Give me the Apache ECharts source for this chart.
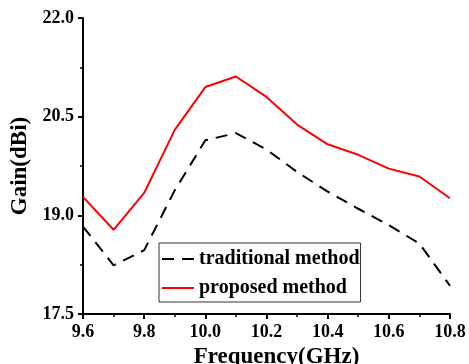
<!DOCTYPE html>
<html>
<head>
<meta charset="utf-8">
<script src="https://cdn.jsdelivr.net/npm/echarts@6/dist/echarts.min.js"></script>
<style>
  html, body { margin: 0; padding: 0; background: #fff; }
  #chart { width: 469px; height: 364px; }
</style>
</head>
<body>
<div id="chart"></div>
<script>
const freq = [9.6, 9.7, 9.8, 9.9, 10.0, 10.1, 10.2, 10.3, 10.4, 10.5, 10.6, 10.7, 10.8];
const traditional = [18.83, 18.24, 18.47, 19.38, 20.14, 20.25, 20.0, 19.66, 19.36, 19.1, 18.85, 18.57, 17.93];
const proposed = [19.28, 18.78, 19.34, 20.3, 20.95, 21.11, 20.8, 20.38, 20.08, 19.92, 19.71, 19.59, 19.26];

const font = 'Liberation Serif';

const toPairs = (ys) => freq.map((f, i) => [f, ys[i]]);

const chart = echarts.init(document.getElementById('chart'));

const option = {
  animation: false,
  grid: {
    left: 83,
    right: 19,
    top: 18,
    bottom: 50,
    outerBoundsMode: 'none',
    containLabel: false,
  },
  legend: {
    orient: 'vertical',
    left: 159,
    top: 243,
    padding: [6, 1, 4, 2],
    itemWidth: 32,
    itemHeight: 14,
    itemGap: 9,
    borderColor: '#333',
    borderWidth: 1,
    itemStyle: { opacity: 0 },
    textStyle: {
      fontFamily: font,
      fontWeight: 'bold',
      fontSize: 20,
      color: '#000',
    },
    data: ['traditional method', 'proposed method'],
  },
  xAxis: {
    type: 'value',
    min: 9.6,
    max: 10.8,
    interval: 0.2,
    name: 'Frequency(GHz)',
    nameLocation: 'middle',
    nameGap: 26,
    nameTextStyle: {
      fontFamily: font,
      fontWeight: 'bold',
      fontSize: 23,
      color: '#000',
      padding: [0, 0, 0, 20],
    },
    axisLine: { lineStyle: { color: '#000', width: 2 } },
    axisTick: { length: 5, lineStyle: { color: '#000', width: 2 } },
    minorTick: { show: true, splitNumber: 2, length: 3, lineStyle: { color: '#000', width: 1.5 } },
    splitLine: { show: false },
    axisLabel: {
      margin: 9,
      fontFamily: font,
      fontWeight: 'bold',
      fontSize: 18,
      color: '#000',
      formatter: (v) => v.toFixed(1),
    },
  },
  yAxis: {
    type: 'value',
    min: 17.5,
    max: 22.0,
    interval: 1.5,
    name: 'Gain(dBi)',
    nameLocation: 'middle',
    nameGap: 48,
    nameTextStyle: {
      fontFamily: font,
      fontWeight: 'bold',
      fontSize: 23,
      color: '#000',
    },
    axisLine: { show: true, lineStyle: { color: '#000', width: 2 } },
    axisTick: { show: true, length: 5, lineStyle: { color: '#000', width: 2 } },
    minorTick: { show: true, splitNumber: 2, length: 3, lineStyle: { color: '#000', width: 1.5 } },
    splitLine: { show: false },
    axisLabel: {
      margin: 9,
      fontFamily: font,
      fontWeight: 'bold',
      fontSize: 18,
      color: '#000',
      formatter: (v) => v.toFixed(1),
    },
  },
  series: [
    {
      name: 'traditional method',
      type: 'line',
      symbol: 'none',
      color: '#000',
      lineStyle: { color: '#000', width: 2, type: [12, 8] },
      data: toPairs(traditional),
    },
    {
      name: 'proposed method',
      type: 'line',
      symbol: 'none',
      color: '#ff0000',
      lineStyle: { color: '#ff0000', width: 2 },
      data: toPairs(proposed),
    },
  ],
};

option && chart.setOption(option);
</script>
</body>
</html>
